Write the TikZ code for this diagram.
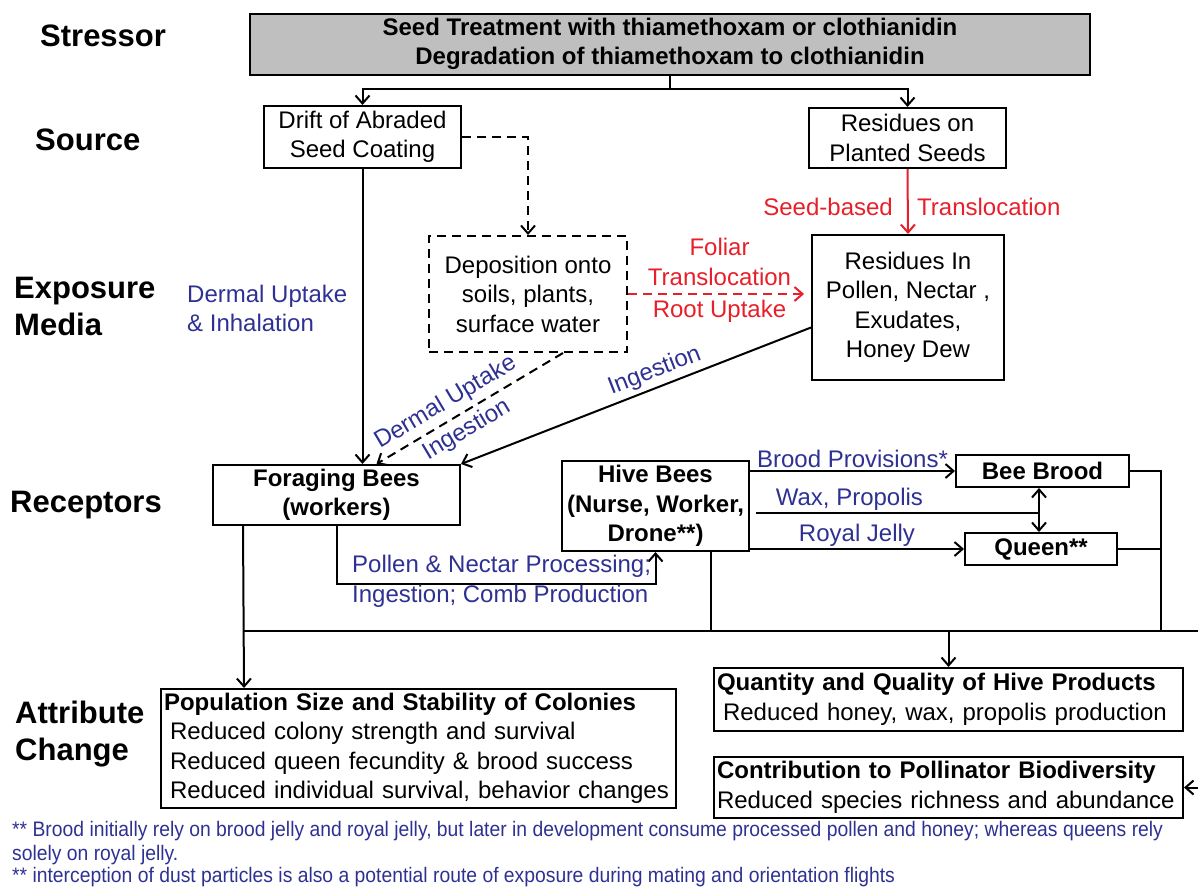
\documentclass[tikz,border=0pt]{standalone}
\usepackage{fontspec}
\setmainfont{Liberation Sans}
\newfontfamily\notefont[FakeStretch=0.92]{Liberation Sans}
\usetikzlibrary{arrows.meta}

\definecolor{labelblue}{RGB}{46,49,146}
\definecolor{labelred}{RGB}{232,30,40}
\definecolor{boxgray}{RGB}{191,191,191}

\tikzset{
  box/.style={draw, line width=2pt, align=center, inner sep=2pt, font=\fontsize{24}{29.5}\selectfont},
  dashbox/.style={box, dash pattern=on 9pt off 6pt},
  boldbox/.style={box, font=\fontsize{24}{29.5}\selectfont\bfseries},
  stage/.style={anchor=west, align=left, inner sep=0pt, font=\fontsize{31}{37}\selectfont\bfseries},
  bluelabel/.style={text=labelblue, align=center, inner sep=2pt, font=\fontsize{24}{29}\selectfont},
  redlabel/.style={text=labelred, align=center, inner sep=2pt, font=\fontsize{24}{30}\selectfont},
  wire/.style={line width=2pt},
  link/.style={wire, ->},
  dashlink/.style={link, dash pattern=on 9pt off 6pt},
  note/.style={anchor=west, inner sep=0pt, text=labelblue, font=\notefont\fontsize{21}{23}\selectfont},
}

\begin{document}
\begin{tikzpicture}[x=1pt, y=-1pt, >={Straight Barb[length=8pt,width=14pt]}]
    \useasboundingbox (0,0) rectangle (1198,886);

    \foreach \nm/\x/\y/\txt in {stressor/40/36/Stressor, source/35/140/Source, media/14/306/{Exposure\\Media}, receptors/10/505/Receptors, change/15/734/{Attribute\\Change}}
    {
        \node[stage] (\nm) at (\x,\y) {\txt};
    }

    \node[boldbox, fill=boxgray, minimum width=840pt, minimum height=61pt] (stress) at (670,44) {Seed Treatment with thiamethoxam or clothianidin\\Degradation of thiamethoxam to clothianidin};
    \node[box, minimum width=197pt, minimum height=62pt] (drift) at (362.5,137) {Drift of Abraded\\Seed Coating};
    \node[box, minimum width=197pt, minimum height=60pt] (seeds) at (907.5,138) {Residues on\\Planted Seeds};
    \node[dashbox, minimum width=198pt, minimum height=116pt] (depo) at (528,294) {Deposition onto\\soils, plants,\\surface water};
    \node[box, minimum width=192pt, minimum height=145pt] (resin) at (908,307.5) {Residues In\\Pollen, Nectar ,\\Exudates,\\Honey Dew};
    \node[boldbox, minimum width=247pt, minimum height=60pt] (forag) at (336.5,495) {Foraging Bees\\(workers)};
    \node[boldbox, minimum width=187pt, minimum height=90pt] (hive) at (655.5,506) {Hive Bees\\(Nurse, Worker,\\Drone**)};
    \node[boldbox, minimum width=173pt, minimum height=32pt] (brood) at (1042.5,471) {Bee Brood};
    \node[boldbox, minimum width=152pt, minimum height=32pt] (queen) at (1041,549) {Queen**};

    \node[box, align=left, text width=509pt, inner xsep=3pt, minimum height=119pt] (popul) at (418.5,748.5) {\textbf{Population Size and Stability of Colonies}\\\hspace*{6pt}Reduced colony strength and survival\\\hspace*{6pt}Reduced queen fecundity \& brood success\\\hspace*{6pt}Reduced individual survival, behavior changes};
    \node[box, align=left, text width=463pt, inner xsep=3pt, minimum height=63pt] (quant) at (948.5,699.5) {\textbf{Quantity and Quality of Hive Products}\\\hspace*{6pt}Reduced honey, wax, propolis production};
    \node[box, align=left, text width=463pt, inner xsep=3pt, minimum height=61pt] (contr) at (948.5,787.5) {\textbf{Contribution to Pollinator Biodiversity}\\Reduced species richness and abundance};

    \coordinate (split) at (670,89);
    \draw[wire] (stress.south) -- (split);
    \draw[link] (split) -| (drift.north);
    \draw[link] (split) -| (seeds.north);

    \draw[dashlink] (drift.east) -| (depo.north);
    \draw[link, labelred] (seeds.south) -- (resin.north);
    \node[redlabel, anchor=east] (seedlbl) at (895,207) {Seed-based};
    \node[redlabel, anchor=west] (translbl) at (915,207) {Translocation};
    \draw[dashlink, labelred, shorten >=7pt] (depo.east) -- (depo.east -| resin.west)
        node[midway, above=5pt, redlabel] (foliar) {Foliar\\Translocation}
        node[midway, below=3pt, redlabel] (root) {Root Uptake};

    \node[bluelabel, anchor=west, align=left] (dermal) at (185,308) {Dermal Uptake\\\& Inhalation};
    \draw[link] (drift.south) -- (drift.south |- forag.north);
    \draw[dashlink] ([xshift=35pt]depo.south) -- ([xshift=40pt]forag.north)
        node[pos=0.58, sloped, above=3pt, bluelabel] (dupt) {Dermal Uptake}
        node[pos=0.56, sloped, below=3pt, bluelabel] (ding) {Ingestion};
    \draw[link] ([yshift=-20pt]resin.west) -- (forag.north east)
        node[pos=0.43, sloped, above=2pt, bluelabel] (ring) {Ingestion};

    \draw[link] (forag.south) -- ++(0,58) coordinate (bend) -| (hive.south);
    \node[bluelabel, anchor=west] (proc) at (350,566) {Pollen \& Nectar Processing;};
    \node[bluelabel, anchor=west] (comb) at (350,596) {Ingestion; Comb Production};

    \draw[link] (hive.east |- brood.west) -- (brood.west) node[midway, above, bluelabel] (prov) {Brood Provisions*};
    \coordinate (bq) at (1039,513);
    \draw[wire] ([shift={(6,7)}]hive.east) -- (bq) node[pos=0.33, above, bluelabel] (wax) {Wax, Propolis};
    \draw[wire, <->] (brood.south -| bq) -- (queen.north -| bq);
    \draw[link] (hive.east |- queen.west) -- (queen.west) node[midway, above, bluelabel] (jelly) {Royal Jelly};

    \coordinate (rbus) at (1161,631);
    \coordinate (busl) at (244,631);
    \coordinate (busr) at (1198,631);
    \draw[wire] (brood.east) -| (rbus);
    \draw[wire] (queen.east) -- (queen.east -| rbus);
    \draw[wire] (busl) -- (busr);
    \draw[link] ([xshift=31pt]forag.south west) -- (busl |- popul.north);
    \draw[wire] ([xshift=-39pt]hive.south east) -- ([xshift=-39pt]hive.south east |- busl);
    \draw[link] (quant.north |- busl) -- (quant.north);
    \draw[link] (contr.east -| busr) -- (contr.east);

    \node[note] (fn1) at (12,831) {** Brood initially rely on brood jelly and royal jelly, but later in development consume processed pollen and honey; whereas queens rely};
    \node[note] (fn2) at (12,855) {solely on royal jelly.};
    \node[note] (fn3) at (12,877) {** interception of dust particles is also a potential route of exposure during mating and orientation flights};
\end{tikzpicture}
\end{document}
